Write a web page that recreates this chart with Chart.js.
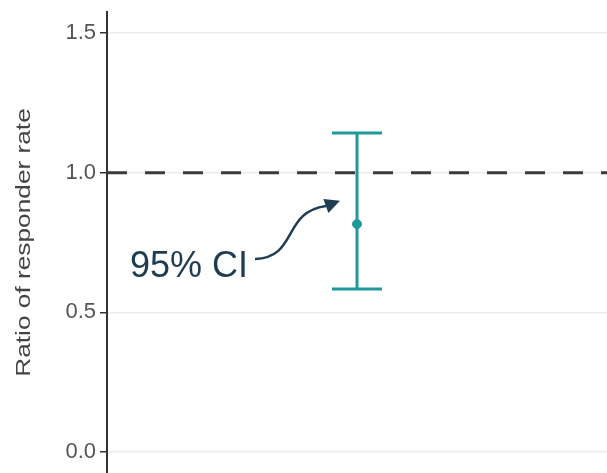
<!DOCTYPE html>
<html>
<head>
<meta charset="utf-8">
<script src="https://cdn.jsdelivr.net/npm/chart.js@4/dist/chart.umd.min.js"></script>
<style>
  html, body { margin: 0; padding: 0; background: #ffffff; }
  #wrap { width: 607px; height: 473px; position: relative; }
</style>
</head>
<body>
<div id="wrap"><canvas id="c"></canvas></div>
<script>
// Estimate and its 95% confidence interval
const groups = [1];
const ratioEstimate = [0.816];
const ciLower = [0.584];
const ciUpper = [1.142];
const referenceRatio = 1.0;
const yTicks = [0.0, 0.5, 1.0, 1.5];
const yTitle = 'Ratio of responder rate';

const teal = '#1f9a9b';
const navy = '#1e3d52';
const fontFamily = '"Liberation Sans", Arial, sans-serif';

// Callout "95% CI" with a curved arrow pointing at the interval (data units)
const callout = {
  text: '95% CI',
  textAt: { x: 0.092, y: 0.627 },
  tail: { x: 0.592, y: 0.691 },
  c1: { x: 0.764, y: 0.695 },
  c2: { x: 0.700, y: 0.860 },
  end: { x: 0.876, y: 0.881 },
  tip: { x: 0.932, y: 0.899 }
};

const errorBarPlugin = {
  id: 'errorBars',
  afterDatasetsDraw(chart) {
    const { ctx, scales: { x, y } } = chart;
    ctx.save();
    ctx.strokeStyle = teal;
    ctx.lineWidth = 3;
    ctx.lineCap = 'butt';
    groups.forEach((g, i) => {
      const px = x.getPixelForValue(g);
      const yl = y.getPixelForValue(ciLower[i]);
      const yh = y.getPixelForValue(ciUpper[i]);
      const half = 25;
      ctx.beginPath();
      ctx.moveTo(px, yl); ctx.lineTo(px, yh);
      ctx.moveTo(px - half, yl); ctx.lineTo(px + half, yl);
      ctx.moveTo(px - half, yh); ctx.lineTo(px + half, yh);
      ctx.stroke();
    });
    ctx.restore();
  }
};

// Rotated y-axis title, slightly widened along its length
const yTitlePlugin = {
  id: 'yTitle',
  afterDraw(chart) {
    const { ctx, chartArea } = chart;
    const cy = (chartArea.top + chartArea.bottom) / 2;
    ctx.save();
    ctx.translate(24, cy);
    ctx.rotate(-Math.PI / 2);
    ctx.scale(1.25, 1);
    ctx.fillStyle = '#444444';
    ctx.font = '21px ' + fontFamily;
    ctx.textAlign = 'center';
    ctx.textBaseline = 'middle';
    ctx.fillText(yTitle, 0, 0);
    ctx.restore();
  }
};

const calloutPlugin = {
  id: 'callout',
  afterDraw(chart) {
    const { ctx, scales: { x, y } } = chart;
    const P = p => [x.getPixelForValue(p.x), y.getPixelForValue(p.y)];
    const [tx, ty] = P(callout.textAt);
    ctx.save();
    ctx.fillStyle = navy;
    ctx.font = '36px ' + fontFamily;
    ctx.textAlign = 'left';
    ctx.textBaseline = 'alphabetic';
    ctx.fillText(callout.text, tx, ty);

    const a = P(callout.tail), b = P(callout.c1), c = P(callout.c2), d = P(callout.end), t = P(callout.tip);
    ctx.strokeStyle = navy;
    ctx.lineWidth = 2.5;
    ctx.beginPath();
    ctx.moveTo(a[0], a[1]);
    ctx.bezierCurveTo(b[0], b[1], c[0], c[1], d[0], d[1]);
    ctx.stroke();

    // arrow head
    const dx = t[0] - d[0], dy = t[1] - d[1];
    const len = Math.hypot(dx, dy);
    const ux = dx / len, uy = dy / len;
    const headLen = 15, halfW = 7.5;
    const bx = t[0] - ux * headLen, by = t[1] - uy * headLen;
    ctx.beginPath();
    ctx.moveTo(t[0], t[1]);
    ctx.lineTo(bx - uy * halfW, by + ux * halfW);
    ctx.lineTo(bx + uy * halfW, by - ux * halfW);
    ctx.closePath();
    ctx.fill();
    ctx.restore();
  }
};

new Chart(document.getElementById('c'), {
  data: {
    datasets: [
      {
        type: 'line',
        data: [{ x: 0, y: referenceRatio }, { x: 2, y: referenceRatio }],
        borderColor: '#3a3a3a',
        borderWidth: 3,
        borderDash: [20, 18],
        pointRadius: 0,
        order: 2
      },
      {
        type: 'scatter',
        data: groups.map((g, i) => ({ x: g, y: ratioEstimate[i] })),
        backgroundColor: teal,
        borderColor: teal,
        pointRadius: 4.5,
        order: 1
      }
    ]
  },
  options: {
    responsive: true,
    maintainAspectRatio: false,
    animation: false,
    layout: { autoPadding: false, padding: { top: 12, right: 0, bottom: 0, left: 0 } },
    plugins: { legend: { display: false }, tooltip: { enabled: false } },
    scales: {
      x: { type: 'linear', min: 0, max: 2, display: false },
      y: {
        type: 'linear',
        min: -0.075,
        max: 1.575,
        afterBuildTicks(scale) { scale.ticks = yTicks.map(v => ({ value: v })); },
        afterFit(scale) {
          scale.width = 107;
          scale.paddingTop = 0;
          scale.paddingBottom = 0;
        },
        ticks: {
          includeBounds: false,
          padding: 4,
          color: '#555555',
          font: { family: fontFamily, size: 22 },
          callback: v => Number(v).toFixed(1)
        },
        grid: {
          color: '#ebebeb',
          lineWidth: 1.5,
          tickLength: 7,
          tickColor: '#333333',
          tickWidth: 1.5
        },
        border: { display: true, color: '#333333', width: 2 },
        title: { display: false }
      }
    }
  },
  plugins: [errorBarPlugin, calloutPlugin, yTitlePlugin]
});
</script>
</body>
</html>
